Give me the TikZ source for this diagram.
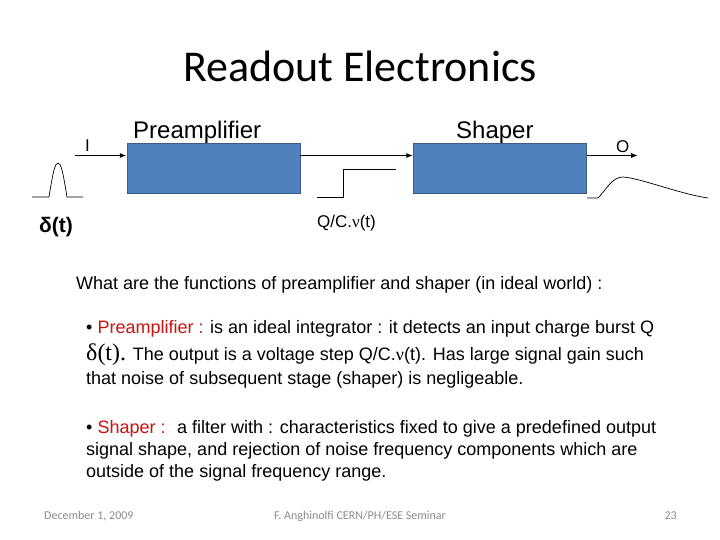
\documentclass[tikz,border=0pt]{standalone}
\usepackage{fontspec}
\setmainfont{Liberation Sans}
\newfontfamily\calib{Carlito}
\newfontfamily\symf{Liberation Serif}
\usetikzlibrary{arrows.meta}
\definecolor{blau}{HTML}{4F81BD}
\definecolor{blaud}{HTML}{385D8A}
\definecolor{rot}{HTML}{CC1111}
\definecolor{fussgrau}{HTML}{8C8C8C}
\newcommand{\fs}[1]{\fontsize{#1}{#1}\selectfont}
\tikzset{
  block/.style={fill=blau,draw=blaud,line width=0.8pt,minimum width=173pt,minimum height=50pt,inner sep=0pt},
  sig/.style={-{Latex[length=2.4mm,width=1.8mm]},black,line width=1.6pt},
  puls/.style={black,line width=0.7pt},
  lab/.style={anchor=base west,inner sep=0pt},
  txt/.style={anchor=base west,inner sep=0pt,font=\fs{18}},
  fuss/.style={anchor=base west,inner sep=0pt,text=fussgrau,font=\calib\fs{12}},
}

\begin{document}
\begin{tikzpicture}[x=1pt,y=-1pt]
  \useasboundingbox[fill=white] (0,0) rectangle (720,540);
  % Titel
  \node[anchor=base,inner sep=0pt,font=\calib\fs{44}] (titel) at (360,82) {Readout Electronics};
  % Bloecke
  \node[block] (pre) at (213.5,168) {};
  \node[block] (sha) at (500,168) {};
  \node[lab,font=\fs{24}] (prelab) at (133,139) {Preamplifier};
  \node[lab,font=\fs{24}] (shalab) at (456,139) {Shaper};
  % Signalpfad
  \coordinate (ein) at (75,155.5);
  \coordinate (aus) at (638,155.5);
  \draw[sig] (ein) -- (pre.west|-ein);
  \draw[sig] (pre.east|-ein) -- (sha.west|-ein);
  \draw[sig] (sha.east|-ein) -- (aus);
  \node[lab,font=\fs{17}] (ilab) at (85,152) {I};
  \node[lab,font=\fs{17}] (olab) at (616,153) {O};
  % Pulsformen
  \draw[puls] (32,197) -- (49,197) .. controls (53,172) and (55,163) .. (58,163)
    .. controls (61,163) and (63,172) .. (67,197) -- (83,197);
  \draw[puls] (317,197) -- (343,197) -- (343,169) -- (396,169);
  \draw[puls] (587,198) -- (598,198) .. controls (606,190) and (612,177) .. (623,177)
    .. controls (640,178) and (680,194) .. (708,198);
  \node[lab,font=\bfseries\fs{21}] (delta) at (39,233) {δ(t)};
  \node[lab,font=\fs{17}] (qcv) at (317,228) {Q/C.{\symf ν}(t)};
  % Text
  \node[txt] (frage) at (76,289) {What are the functions of preamplifier and shaper (in ideal world) :};
  \node[txt] (p1a) at (86,333) {• \textcolor{rot}{Preamplifier :} is an ideal integrator : it detects an input charge burst Q};
  \node[txt] (p1b) at (86,360) {{\symf\fs{24}δ(t).} The output is a voltage step Q/C.{\symf ν}(t). Has large signal gain such};
  \node[txt] (p1c) at (86,384) {that noise of subsequent stage (shaper) is negligeable.};
  \node[txt] (p2a) at (86,433) {• \textcolor{rot}{Shaper :} \ a filter with : characteristics fixed to give a predefined output};
  \node[txt] (p2b) at (86,455) {signal shape, and rejection of noise frequency components which are};
  \node[txt] (p2c) at (86,477) {outside of the signal frequency range.};
  % Fusszeile
  \node[fuss] (datum) at (44,519) {December 1, 2009};
  \node[fuss,anchor=base] (autor) at (360,519) {F. Anghinolfi CERN/PH/ESE Seminar};
  \node[fuss,anchor=base east] (seite) at (677,519) {23};
\end{tikzpicture}
\end{document}
